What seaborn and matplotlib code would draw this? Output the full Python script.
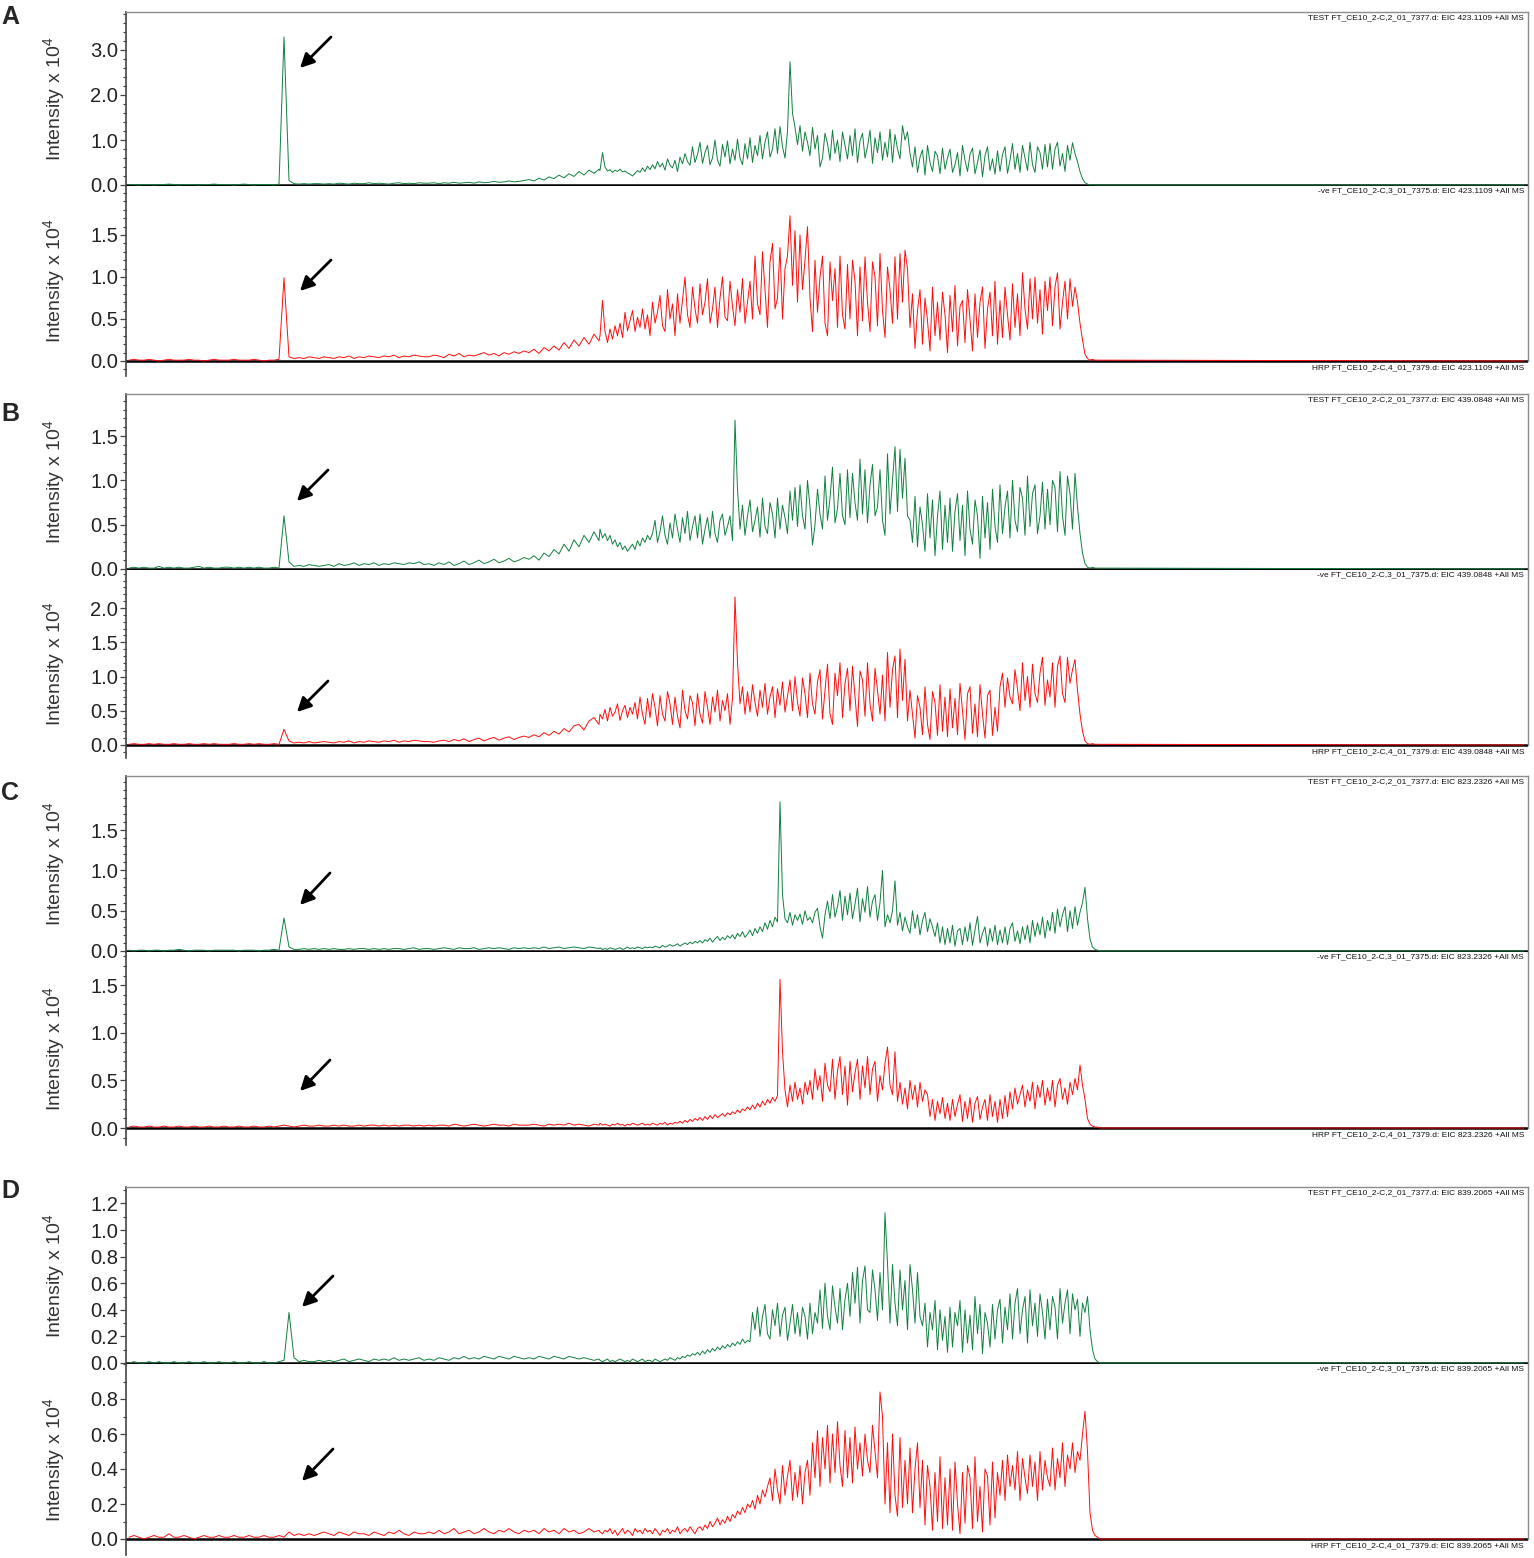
import numpy as np
import pandas as pd
import seaborn as sns
import matplotlib.pyplot as plt
from matplotlib.ticker import FixedLocator, MultipleLocator, FormatStrFormatter

sns.set_style('white')
plt.rcParams['font.family'] = ['Liberation Sans', 'DejaVu Sans']
plt.rcParams['mathtext.fontset'] = 'custom'
plt.rcParams['mathtext.rm'] = 'Liberation Sans'

# scan grid: every 5th scan up to 599, every 2.5 in the busy part, then last scan
scan = np.concatenate([np.arange(129, 600, 5), np.arange(600, 1103, 2.5), [1524]])

# EIC intensities, in units of 100 counts
A_test = [1, 1, 0, 1, 1, 0, 1, 1, 2, 1, 0, 1, 1, 1, 0, 1, 1, 2, 1, 1,
          1, 0, 1, 2, 1, 0, 1, 1, 1, 0, 2, 329, 10, 3, 2, 3, 2, 3, 3, 2,
          3, 2, 4, 3, 2, 4, 3, 3, 5, 3, 4, 3, 2, 4, 5, 3, 4, 3, 5, 4,
          4, 5, 3, 5, 4, 6, 4, 5, 6, 4, 7, 5, 6, 8, 6, 7, 9, 7, 8, 10,
          12, 9, 15, 11, 18, 14, 22, 16, 25, 19, 30, 22, 33, 26, 35,
          32, 72, 40, 31, 34, 28, 33, 30, 35, 29, 31, 27, 24, 20, 26, 32, 28, 38, 30, 42,
          34, 45, 36, 52, 40, 48, 33, 58, 44, 38, 55, 30, 62, 47, 70, 52, 44, 85, 50, 68,
          95, 48, 72, 88, 45, 60, 100, 55, 42, 90, 62, 98, 47, 80, 55, 102, 60, 45, 92, 58,
          105, 50, 88, 65, 110, 58, 95, 118, 62, 80, 125, 70, 130, 85, 60, 120, 274, 160, 128, 90,
          132, 75, 118, 95, 65, 128, 80, 110, 40, 60, 115, 92, 55, 122, 70, 100, 52, 118, 88, 58,
          110, 65, 125, 50, 98, 115, 60, 85, 122, 48, 105, 72, 118, 55, 95, 62, 124, 50, 112, 80,
          58, 132, 100, 118, 70, 40, 85, 28, 62, 78, 22, 88, 50, 30, 75, 65, 25, 82, 35, 60,
          80, 28, 45, 72, 20, 88, 55, 30, 68, 82, 25, 50, 78, 18, 65, 85, 32, 58, 24, 76,
          30, 68, 85, 26, 55, 92, 35, 70, 28, 88, 60, 32, 95, 45, 28, 85, 72, 35, 90, 40,
          92, 35, 80, 95, 42, 70, 30, 88, 55, 94, 70, 52, 30, 14, 5, 2, 0, 1, 0, 0,
          0, 0, 0]
A_ve = [1, 2, 1, 1, 2, 1, 0, 1, 2, 1, 1, 1, 2, 1, 1, 0, 1, 2, 1, 1,
        1, 2, 1, 1, 1, 2, 1, 0, 1, 1, 2, 99, 5, 3, 4, 3, 5, 4, 3, 5,
        4, 3, 5, 4, 6, 3, 5, 4, 6, 5, 4, 6, 5, 7, 4, 6, 5, 7, 6, 5,
        5, 7, 6, 4, 8, 6, 9, 5, 7, 6, 8, 10, 7, 9, 6, 10, 8, 11, 9, 12,
        10, 14, 9, 16, 12, 18, 13, 22, 15, 25, 18, 28, 20, 32, 24,
        30, 72, 35, 22, 38, 26, 42, 30, 45, 28, 58, 36, 48, 60, 35, 52, 40, 62, 38, 55,
        30, 70, 45, 58, 78, 42, 35, 85, 50, 68, 30, 80, 45, 72, 100, 55, 40, 88, 62, 45,
        92, 55, 70, 98, 45, 62, 88, 40, 75, 100, 52, 48, 95, 65, 42, 85, 58, 98, 45, 70,
        95, 50, 125, 68, 55, 130, 85, 40, 118, 140, 62, 75, 135, 50, 110, 125, 173, 90, 155, 70,
        150, 85, 120, 160, 75, 35, 120, 58, 100, 125, 45, 30, 118, 72, 110, 40, 125, 55, 38, 115,
        50, 120, 95, 30, 112, 48, 124, 70, 35, 118, 100, 42, 128, 60, 28, 112, 85, 45, 124, 50,
        128, 70, 132, 110, 40, 80, 15, 60, 85, 20, 75, 48, 12, 88, 30, 70, 25, 82, 55, 10,
        78, 35, 90, 18, 65, 72, 22, 85, 50, 12, 80, 28, 70, 88, 15, 62, 82, 30, 95, 20,
        72, 28, 88, 55, 25, 92, 40, 80, 30, 105, 62, 38, 98, 50, 100, 45, 85, 32, 95, 60,
        100, 42, 88, 105, 38, 70, 95, 50, 98, 65, 88, 70, 45, 25, 8, 3, 1, 2, 1, 1,
        1, 1, 0]
B_test = [1, 2, 1, 2, 1, 1, 3, 1, 2, 1, 2, 1, 1, 2, 3, 1, 2, 1, 1, 2,
          2, 1, 2, 1, 2, 1, 2, 1, 1, 2, 1, 60, 8, 3, 4, 3, 5, 4, 3, 4,
          5, 3, 6, 4, 5, 7, 4, 6, 5, 7, 4, 6, 5, 7, 6, 5, 7, 6, 8, 5,
          6, 4, 7, 5, 8, 4, 6, 9, 5, 7, 10, 6, 8, 11, 7, 9, 12, 8, 10, 13,
          11, 15, 10, 18, 14, 22, 17, 28, 20, 33, 25, 38, 30, 42, 32,
          45, 35, 40, 32, 38, 28, 33, 25, 30, 22, 26, 20, 24, 28, 22, 32, 26, 35, 30, 38,
          33, 40, 55, 30, 42, 60, 38, 28, 52, 35, 62, 45, 30, 58, 40, 65, 32, 48, 60, 35,
          62, 28, 45, 58, 35, 65, 40, 30, 55, 62, 38, 48, 60, 32, 168, 90, 45, 72, 38, 60,
          78, 42, 55, 70, 36, 80, 48, 40, 75, 62, 35, 80, 45, 72, 58, 40, 88, 55, 92, 48,
          95, 60, 45, 100, 70, 27, 50, 90, 62, 45, 105, 55, 80, 115, 52, 68, 108, 60, 50, 112,
          58, 108, 75, 55, 124, 62, 112, 52, 95, 118, 60, 70, 112, 55, 38, 130, 62, 100, 138, 65,
          135, 80, 125, 60, 55, 30, 82, 25, 70, 50, 20, 85, 35, 78, 15, 60, 88, 22, 72, 30,
          80, 20, 65, 85, 32, 72, 15, 88, 45, 28, 78, 60, 12, 82, 35, 75, 22, 90, 48, 30,
          95, 40, 70, 88, 35, 100, 55, 42, 92, 80, 38, 105, 48, 85, 95, 40, 60, 98, 45, 90,
          50, 100, 92, 42, 110, 60, 38, 105, 85, 45, 108, 70, 40, 18, 6, 2, 1, 2, 1, 1,
          1, 1, 0]
B_ve = [1, 2, 1, 1, 2, 1, 2, 1, 1, 2, 1, 1, 2, 1, 1, 2, 1, 2, 1, 1,
        1, 2, 1, 1, 2, 1, 2, 1, 1, 2, 1, 23, 6, 3, 4, 3, 5, 3, 4, 5,
        4, 3, 5, 4, 6, 3, 5, 4, 6, 5, 4, 6, 5, 7, 4, 6, 5, 7, 6, 5,
        5, 4, 6, 7, 5, 8, 6, 9, 5, 8, 10, 6, 9, 11, 7, 10, 12, 8, 11, 13,
        11, 15, 12, 18, 14, 20, 16, 24, 19, 28, 30, 22, 35, 40, 30,
        45, 38, 52, 35, 55, 42, 48, 60, 36, 50, 58, 40, 55, 45, 62, 38, 70, 45, 30, 68,
        40, 75, 55, 28, 72, 45, 35, 78, 60, 30, 70, 42, 25, 80, 50, 38, 72, 62, 28, 75,
        45, 32, 78, 55, 30, 70, 48, 80, 35, 65, 50, 75, 30, 68, 216, 120, 60, 85, 45, 78,
        48, 88, 62, 42, 80, 55, 90, 45, 70, 85, 40, 82, 58, 92, 48, 72, 95, 50, 100, 62,
        42, 98, 75, 40, 105, 60, 45, 92, 110, 38, 80, 118, 45, 30, 105, 72, 120, 40, 90, 112,
        50, 115, 70, 27, 108, 95, 42, 120, 60, 35, 112, 80, 45, 102, 35, 135, 55, 110, 130, 40,
        140, 65, 125, 35, 80, 45, 10, 72, 55, 15, 85, 30, 8, 78, 62, 14, 88, 20, 70, 12,
        82, 25, 68, 15, 90, 50, 8, 75, 85, 17, 60, 12, 88, 45, 10, 72, 80, 14, 55, 20,
        85, 105, 55, 98, 70, 60, 110, 82, 50, 120, 65, 100, 55, 118, 75, 62, 105, 128, 58, 95,
        70, 120, 55, 115, 130, 75, 62, 128, 90, 110, 125, 80, 45, 20, 6, 2, 1, 2, 1, 1,
        1, 1, 0]
C_test = [1, 0, 1, 1, 0, 1, 1, 0, 1, 1, 2, 1, 0, 1, 1, 1, 0, 1, 1, 1,
          1, 1, 0, 1, 1, 1, 0, 1, 1, 2, 1, 41, 5, 2, 2, 3, 2, 3, 2, 3,
          2, 3, 2, 2, 3, 2, 3, 3, 2, 3, 2, 3, 2, 3, 3, 2, 3, 4, 2, 3,
          3, 2, 3, 4, 3, 2, 4, 3, 3, 4, 2, 3, 4, 3, 4, 3, 2, 4, 3, 4,
          3, 4, 3, 5, 3, 4, 5, 3, 4, 5, 4, 3, 5, 4, 3,
          4, 2, 3, 2, 4, 3, 2, 3, 4, 2, 3, 5, 3, 4, 3, 5, 4, 3, 5, 4,
          5, 4, 6, 5, 4, 7, 5, 6, 8, 6, 7, 9, 6, 8, 10, 8, 11, 9, 12, 10,
          13, 10, 14, 12, 16, 11, 15, 18, 13, 17, 14, 19, 16, 20, 15, 22, 18, 24, 17, 21,
          26, 19, 28, 22, 30, 24, 35, 27, 38, 30, 42, 36, 185, 70, 40, 35, 48, 32, 45, 38,
          46, 33, 50, 38, 42, 35, 48, 53, 30, 16, 45, 62, 40, 70, 42, 55, 75, 38, 68, 45,
          72, 40, 58, 78, 36, 65, 48, 80, 42, 62, 70, 38, 60, 100, 30, 45, 35, 50, 87, 32,
          48, 25, 42, 30, 22, 50, 28, 45, 20, 38, 48, 24, 40, 30, 18, 35, 10, 30, 8, 28,
          10, 32, 6, 25, 28, 8, 30, 12, 35, 7, 26, 43, 10, 22, 30, 6, 28, 12, 32, 8,
          26, 10, 30, 8, 28, 35, 12, 25, 9, 30, 14, 32, 10, 38, 18, 35, 20, 42, 16, 38,
          25, 48, 22, 52, 30, 45, 55, 24, 50, 28, 55, 32, 48, 60, 79, 40, 15, 5, 2, 1,
          0, 0, 0]
C_ve = [1, 2, 1, 1, 2, 1, 1, 2, 1, 1, 2, 1, 1, 2, 1, 1, 2, 1, 1, 2,
        1, 1, 2, 1, 1, 2, 1, 1, 2, 1, 2, 3, 2, 1, 2, 3, 2, 2, 3, 2,
        2, 3, 2, 3, 2, 2, 3, 2, 3, 3, 2, 3, 2, 3, 2, 3, 3, 2, 3, 2,
        3, 2, 3, 3, 2, 4, 3, 2, 3, 4, 3, 2, 3, 4, 3, 3, 2, 4, 3, 3,
        3, 4, 3, 2, 4, 3, 4, 3, 5, 3, 4, 3, 2, 4, 3,
        5, 3, 4, 3, 2, 4, 3, 5, 3, 4, 2, 4, 3, 5, 4, 3, 4, 5, 3, 4,
        3, 5, 4, 3, 5, 4, 6, 3, 5, 4, 6, 5, 7, 5, 8, 6, 9, 7, 10, 8,
        11, 8, 12, 9, 13, 10, 14, 11, 13, 15, 12, 16, 14, 17, 15, 19, 16, 20, 18, 22,
        19, 24, 20, 26, 22, 28, 24, 30, 26, 32, 28, 34, 156, 80, 40, 22, 45, 28, 48, 30,
        42, 25, 48, 35, 50, 30, 62, 40, 55, 28, 68, 45, 38, 72, 30, 60, 75, 35, 65, 24,
        70, 38, 58, 72, 30, 65, 42, 75, 35, 62, 70, 28, 55, 40, 68, 85, 45, 35, 80, 28,
        48, 25, 42, 20, 50, 30, 45, 22, 48, 28, 40, 35, 12, 30, 8, 28, 15, 32, 10, 26,
        8, 30, 12, 25, 35, 7, 28, 10, 32, 6, 26, 33, 9, 22, 30, 8, 35, 12, 28, 6,
        30, 10, 34, 12, 38, 20, 42, 25, 35, 45, 22, 40, 28, 48, 20, 45, 32, 50, 24, 42,
        28, 50, 22, 45, 52, 30, 42, 25, 48, 35, 52, 40, 66, 45, 30, 10, 4, 2, 1, 1,
        0, 0, 0]
D_test = [0, 1, 0, 0, 1, 0, 1, 0, 0, 1, 0, 0, 1, 0, 0, 1, 0, 0, 1, 0,
          0, 1, 0, 0, 1, 0, 0, 1, 0, 0, 1, 2, 38, 4, 1, 2, 1, 1, 2, 1,
          2, 1, 2, 3, 1, 2, 3, 2, 1, 3, 2, 3, 2, 4, 2, 3, 2, 3, 4, 2,
          3, 2, 4, 3, 2, 4, 3, 5, 3, 4, 3, 5, 4, 3, 5, 4, 3, 5, 4, 3,
          4, 3, 5, 4, 3, 5, 4, 3, 5, 4, 3, 4, 3, 2, 3,
          2, 1, 2, 3, 1, 2, 1, 2, 3, 2, 1, 2, 1, 3, 2, 1, 2, 3, 1, 2,
          2, 1, 3, 2, 1, 2, 3, 2, 4, 3, 2, 4, 3, 5, 4, 6, 5, 7, 6, 8,
          6, 9, 7, 10, 8, 11, 9, 12, 10, 13, 11, 14, 12, 15, 13, 16, 14, 18, 15, 17,
          16, 38, 25, 42, 20, 35, 44, 22, 18, 40, 28, 45, 20, 36, 42, 17, 30, 44, 22, 38,
          20, 42, 35, 18, 45, 22, 38, 30, 55, 26, 60, 35, 25, 58, 42, 30, 56, 25, 48, 60,
          35, 68, 45, 72, 30, 62, 73, 40, 38, 70, 55, 32, 68, 40, 113, 75, 30, 74, 45, 28,
          70, 40, 62, 25, 74, 55, 30, 68, 35, 28, 45, 12, 38, 25, 47, 10, 40, 17, 35, 8,
          42, 12, 38, 28, 47, 8, 40, 15, 36, 10, 50, 22, 44, 7, 38, 30, 12, 44, 18, 40,
          48, 15, 42, 25, 52, 18, 45, 56, 22, 40, 50, 15, 55, 28, 45, 20, 52, 38, 18, 48,
          25, 50, 42, 18, 56, 30, 45, 55, 22, 52, 40, 48, 20, 45, 38, 50, 25, 10, 3, 1,
          0, 0, 0]
D_ve = [1, 2, 1, 0, 1, 2, 1, 1, 3, 1, 1, 2, 1, 0, 1, 2, 1, 1, 2, 1,
        1, 2, 1, 1, 2, 1, 1, 2, 1, 1, 2, 1, 4, 2, 3, 2, 3, 2, 3, 4,
        3, 2, 4, 3, 2, 4, 3, 3, 2, 4, 3, 2, 4, 3, 5, 3, 2, 4, 3, 3,
        4, 3, 5, 3, 4, 6, 3, 4, 5, 3, 4, 6, 4, 3, 5, 4, 6, 4, 3, 5,
        4, 5, 3, 6, 4, 5, 3, 6, 4, 5, 3, 4, 6, 4, 5,
        4, 3, 5, 4, 6, 3, 5, 2, 4, 6, 3, 5, 4, 2, 6, 4, 5, 3, 6, 4,
        5, 3, 6, 4, 2, 5, 4, 6, 3, 5, 4, 7, 3, 5, 6, 4, 7, 5, 3, 6,
        7, 5, 8, 6, 10, 7, 9, 12, 8, 11, 9, 13, 10, 14, 12, 16, 14, 18, 15, 20,
        18, 22, 17, 25, 20, 28, 24, 30, 35, 22, 40, 28, 20, 42, 25, 36, 45, 22, 38, 24,
        42, 20, 38, 45, 25, 55, 35, 62, 30, 58, 40, 65, 32, 60, 38, 67, 42, 30, 62, 35,
        58, 32, 64, 40, 55, 36, 60, 45, 38, 65, 50, 35, 84, 70, 20, 55, 15, 60, 25, 13,
        58, 18, 45, 20, 52, 15, 40, 55, 18, 45, 8, 42, 30, 5, 38, 10, 47, 6, 35, 8,
        40, 5, 44, 20, 3, 38, 9, 42, 35, 6, 47, 10, 30, 4, 40, 36, 8, 44, 12, 38,
        25, 45, 22, 48, 30, 42, 28, 50, 22, 46, 35, 26, 48, 30, 44, 22, 50, 28, 45, 35,
        30, 52, 28, 46, 35, 55, 30, 48, 40, 55, 38, 50, 45, 60, 73, 50, 15, 5, 2, 1,
        0, 0, 0]

traces = [(A_test, A_ve), (B_test, B_ve), (C_test, C_ve), (D_test, D_ve)]
eic_mz = ['423.1109', '439.0848', '823.2326', '839.2065']
file_test = 'TEST FT_CE10_2-C,2_01_7377.d'
file_ve = '-ve FT_CE10_2-C,3_01_7375.d'
file_hrp = 'HRP FT_CE10_2-C,4_01_7379.d'
letters = ['A', 'B', 'C', 'D']

upper_major = [[0, 1, 2, 3], [0, 0.5, 1, 1.5], [0, 0.5, 1, 1.5],
               [0, 0.2, 0.4, 0.6, 0.8, 1.0, 1.2]]
lower_major = [[0, 0.5, 1, 1.5], [0, 0.5, 1, 1.5, 2], [0, 0.5, 1, 1.5],
               [0, 0.2, 0.4, 0.6, 0.8]]
upper_minor = [0.2, 0.1, 0.1, 0.1]

# layout in pixels: top of box, zero of upper trace, zero of lower trace,
# end of left axis, px per 1e4 (upper, lower)
geom = [(12, 185, 361, 376, 45.0, 84.0),
        (394, 569, 745, 758, 88.6, 68.5),
        (776, 951, 1128, 1145, 80.6, 95.3),
        (1187, 1363, 1539, 1555, 133.0, 175.0)]
# arrows (tail px, head px) for upper and lower trace
arrows = [(((331, 37), (300, 68)), ((331, 260), (300, 291))),
          (((328, 470), (297, 501)), ((328, 681), (297, 712))),
          (((330, 873), (300, 905)), ((330, 1060), (300, 1091))),
          (((333, 1276), (302, 1307)), ((333, 1449), (302, 1481)))]
letter_y = [17, 414, 793, 1191]

W, H = 1534, 1558
X0, X1 = 126, 1528
green = '#11803f'
red = '#ff0d0d'

fig = plt.figure(figsize=(W / 100, H / 100), dpi=100)


def add_ax(top_px, bottom_px):
    return fig.add_axes([X0 / W, 1 - bottom_px / H, (X1 - X0) / W, (bottom_px - top_px) / H])


def style_ax(ax, major, minor):
    ax.set_xlim(X0, X1)
    ax.set_xticks([])
    ax.set_xlabel('')
    ax.yaxis.set_major_locator(FixedLocator(major))
    ax.yaxis.set_minor_locator(MultipleLocator(minor))
    ax.yaxis.set_major_formatter(FormatStrFormatter('%.1f'))
    ax.tick_params(axis='y', which='major', left=True, direction='out', length=4, width=0.9,
                   color='#444444', labelsize=14.5, labelcolor='#222222', pad=1.5)
    ax.tick_params(axis='y', which='minor', left=True, direction='out', length=2.5,
                   width=0.8, color='#444444')
    ax.spines['left'].set_color('#444444')
    ax.spines['left'].set_linewidth(1.2)
    ax.spines['bottom'].set_visible(False)
    ax.spines['right'].set_color('#8c8c8c')
    ax.spines['right'].set_linewidth(1.0)
    ax.set_ylabel('Intensity x 10$^{4}$', fontsize=14, color='#333333')
    ax.yaxis.set_label_coords(-58.5 / (X1 - X0), 0.5)
    ax.set_facecolor('none')


for i in range(4):
    top, zu, zl, end, ppu_u, ppu_l = geom[i]
    test_vals, ve_vals = traces[i]

    ax_u = add_ax(top, zu + 1)
    ax_l = add_ax(zu + 1, end)

    # upper trace: test sample
    ax_u.set_ylim(-1 / ppu_u, (zu - top) / ppu_u)
    ax_u.axhline(0, color='black', lw=1.8, zorder=1)
    df_u = pd.DataFrame({'scan': scan, 'intensity': np.array(test_vals) / 100})
    sns.lineplot(data=df_u, x='scan', y='intensity', ax=ax_u, color=green, lw=0.7,
                 estimator=None, sort=False, zorder=2)
    style_ax(ax_u, upper_major[i], upper_minor[i])
    ax_u.spines['top'].set_color('#8c8c8c')
    ax_u.spines['top'].set_linewidth(1.0)

    # lower trace: -ve control
    top_l = (zl - zu - 1) / ppu_l
    ax_l.set_ylim(-(end - zl) / ppu_l, top_l)
    ax_l.axhline(0, color='black', lw=1.8, zorder=1)
    df_l = pd.DataFrame({'scan': scan, 'intensity': np.array(ve_vals) / 100})
    sns.lineplot(data=df_l, x='scan', y='intensity', ax=ax_l, color=red, lw=0.7,
                 estimator=None, sort=False, zorder=2)
    style_ax(ax_l, lower_major[i], 0.1)
    ax_l.spines['top'].set_visible(False)
    ax_l.spines['right'].set_bounds(0, top_l)

    # arrows to the early peak
    for ax, (tail, head), zero, ppu in [(ax_u, arrows[i][0], zu, ppu_u),
                                        (ax_l, arrows[i][1], zl, ppu_l)]:
        ax.annotate('', xy=(head[0], (zero - head[1]) / ppu),
                    xytext=(tail[0], (zero - tail[1]) / ppu),
                    arrowprops=dict(arrowstyle='-|>,head_length=0.6,head_width=0.3',
                                    color='black', lw=2.0, mutation_scale=14,
                                    shrinkA=0, shrinkB=0))

    mz = eic_mz[i]
    xr = (1524 - X0) / (X1 - X0)
    ax_u.text(xr, 1 - 2 / (zu + 1 - top), f'{file_test}: EIC {mz} +All MS',
              transform=ax_u.transAxes, ha='right', va='top', fontsize=6.0, color='#111111')
    ax_l.text(xr, 1 - 1.5 / (end - zu - 1), f'{file_ve}: EIC {mz} +All MS',
              transform=ax_l.transAxes, ha='right', va='top', fontsize=6.0, color='#111111')
    ax_l.annotate(f'{file_hrp}: EIC {mz} +All MS', xy=(xr, 0),
                  xycoords=('axes fraction', 'data'), xytext=(0, -2),
                  textcoords='offset points', ha='right', va='top', fontsize=6.0,
                  color='#111111')

    fig.text(1 / W, 1 - letter_y[i] / H, letters[i], fontsize=18, fontweight='bold',
             ha='left', va='center')

fig.savefig('out.png', dpi=100)
